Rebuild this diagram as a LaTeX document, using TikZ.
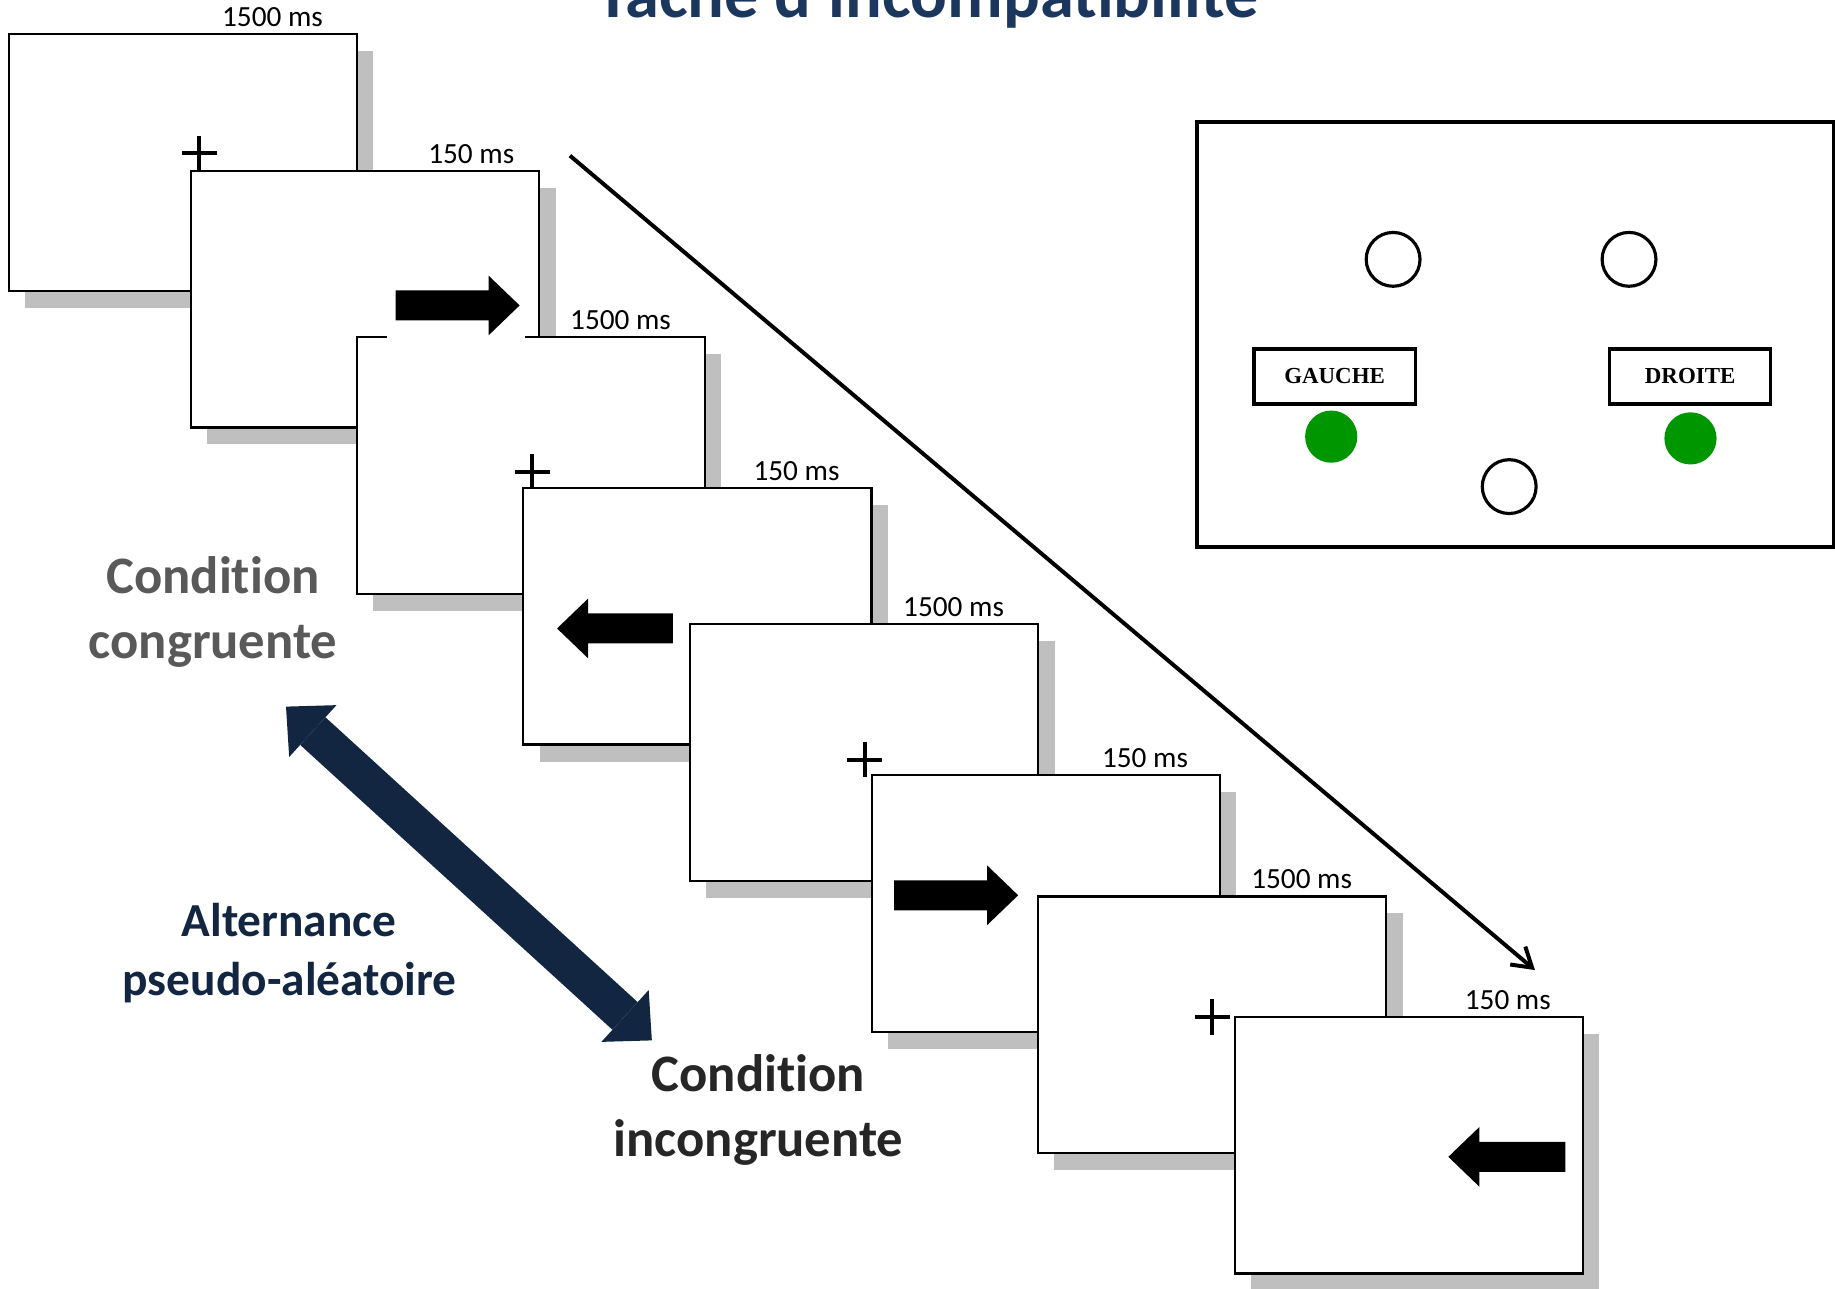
\documentclass[tikz,border=0pt]{standalone}
\usepackage{fontspec}
\setmainfont{Carlito}[Ligatures=NoCommon]
\newfontfamily\keyfont{Liberation Serif}
\usetikzlibrary{arrows.meta,shadows}

\definecolor{shadowgray}{RGB}{191,191,191}
\definecolor{titlenavy}{RGB}{28,55,94}
\definecolor{deepnavy}{RGB}{19,38,65}
\definecolor{midgray}{RGB}{89,89,89}
\definecolor{inkgray}{RGB}{38,38,38}
\definecolor{keygreen}{RGB}{0,150,0}

\begin{document}
\begin{tikzpicture}[x=1pt, y=-1pt,
  screen/.style={draw=black, line width=1.9pt, fill=white, anchor=north west,
    minimum width=297.5pt, minimum height=219.5pt, inner sep=0pt, outer sep=0pt,
    general shadow={fill=shadowgray, shadow xshift=14pt, shadow yshift=-14.5pt}},
  timelabel/.style={anchor=base west, inner sep=0pt, font=\fontsize{25}{30}\selectfont},
  fixcross/.style={line width=3.4pt},
  panelbox/.style={draw=black, line width=3.3pt, anchor=north west,
    minimum width=544pt, minimum height=363.2pt, inner sep=0pt},
  slot/.style={circle, draw=black, line width=2.7pt, minimum size=46pt, inner sep=0pt},
  lamp/.style={circle, fill=keygreen, minimum size=44.6pt, inner sep=0pt},
  keybox/.style={draw=black, line width=2.7pt, minimum width=137.8pt, minimum height=47pt,
    inner sep=0pt, font=\keyfont\bfseries\fontsize{19.6}{23}\selectfont},
  condtext/.style={anchor=base, inner sep=0pt, font=\bfseries\fontsize{45}{54}\selectfont},
  alttext/.style={anchor=base, inner sep=0pt, text=deepnavy, font=\bfseries\fontsize{40.5}{49}\selectfont},
  titletext/.style={anchor=base, inner sep=0pt, text=titlenavy, font=\bfseries\fontsize{58.5}{70}\selectfont},
  seqarrow/.style={line width=3.4pt, -{Straight Barb[length=16pt, width=20pt]}},
  altarrow/.style={deepnavy, line width=32pt,
    {Triangle[length=31pt, width=60pt, line width=0pt]}-{Triangle[length=31pt, width=60pt, line width=0pt]}},
  pics/stimarrow/.style={code={
    \fill[white] (5,-38) rectangle ({-#1-7},29);
    \fill[black] (0,0) -- (-26.5,-25.5) -- (-26.5,-12.8) -- (-#1,-12.8) -- (-#1,12.8)
      -- (-26.5,12.8) -- (-26.5,25.5) -- cycle;
  }},
  pics/crossmark/.style={code={
    \draw[fixcross] (-15,0) -- (15,0) (0,-15) -- (0,15);
  }}
]
\useasboundingbox (0,0) rectangle (1568,1100.6);
\clip (0,0) rectangle (1568,1100.6);

% title
\node[titletext] (title) at (792.5,14.8) {Tâche d'incompatibilité};

% trial screens, each one laid over the previous one
\node[screen] (f1) at (7.6,29.1) {};
\pic at (170.3,131) {crossmark};
\node[screen] (f2) at (163.3,145.8) {};
\node[screen] (f3) at (305,288) {};
\pic at (454.9,403) {crossmark};
\node[screen] (f4) at (447.2,416.7) {};
\node[screen] (f5) at (589.6,533.2) {};
\pic at (739,649) {crossmark};
\node[screen] (f6) at (745,662) {};
\node[screen] (f7) at (887,766) {};
\pic at (1036,869) {crossmark};
\node[screen] (f8) at (1055,868.7) {};

% target arrows
\pic at (444,261) {stimarrow=106};
\pic[xscale=-1] at (476,537) {stimarrow=99};
\pic at (870,765) {stimarrow=106};
\pic[xscale=-1] at (1237.6,988.5) {stimarrow=100};

% durations
\node[timelabel] (t1) at ([xshift=182pt, yshift=6.5pt]f1.north west) {1500 ms};
\node[timelabel] (t2) at ([xshift=202.5pt, yshift=6.5pt]f2.north west) {150 ms};
\node[timelabel] (t3) at ([xshift=182pt, yshift=6.5pt]f3.north west) {1500 ms};
\node[timelabel] (t4) at ([xshift=196.5pt, yshift=6.5pt]f4.north west) {150 ms};
\node[timelabel] (t5) at ([xshift=182pt, yshift=6.5pt]f5.north west) {1500 ms};
\node[timelabel] (t6) at ([xshift=196.5pt, yshift=6.5pt]f6.north west) {150 ms};
\node[timelabel] (t7) at ([xshift=182pt, yshift=6.5pt]f7.north west) {1500 ms};
\node[timelabel] (t8) at ([xshift=196.5pt, yshift=6.5pt]f8.north west) {150 ms};

% response box
\node[panelbox] (panel) at (1021,102.5) {};
\node[slot] (s1) at (1190.4,221.6) {};
\node[slot] (s2) at (1392,221.6) {};
\node[slot] (s3) at (1289.6,415.8) {};
\node[keybox] (gauche) at (1140.4,321.7) {GAUCHE};
\node[keybox] (droite) at (1444.2,321.7) {DROITE};
\node[lamp] (g1) at (1137.5,373.1) {};
\node[lamp] (g2) at (1444.5,374.6) {};

% condition labels
\node[condtext, text=midgray] (cong1) at (182,507.5) {Condition};
\node[condtext, text=midgray] (cong2) at (182,562.5) {congruente};
\node[condtext, text=inkgray] (incg1) at (648,933) {Condition};
\node[condtext, text=inkgray] (incg2) at (648,988) {incongruente};
\node[alttext] (alt1) at (247,800) {Alternance};
\node[alttext] (alt2) at (247.5,850.5) {pseudo-aléatoire};

% time course arrow
\coordinate (seqstart) at (487,133);
\coordinate (seqend) at (1311.6,828.9);
\draw[seqarrow] (seqstart) -- (seqend);

% alternation arrow between the two conditions
\coordinate (altA) at (244.4,603.8);
\coordinate (altB) at (557,889);
\draw[altarrow] (altA) -- (altB);
\end{tikzpicture}
\end{document}
